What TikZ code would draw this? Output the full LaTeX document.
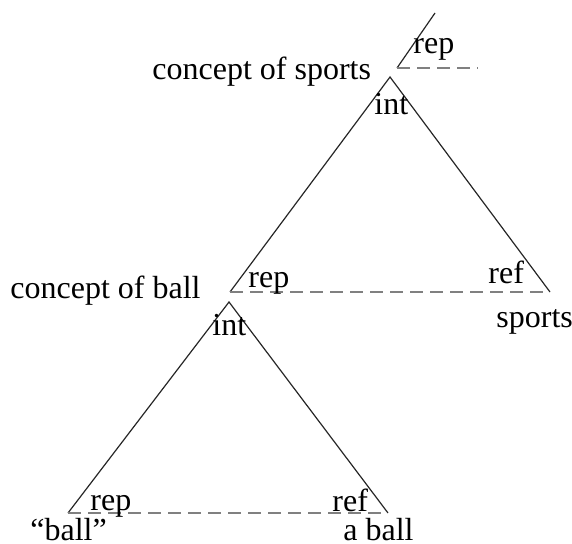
\documentclass[tikz,border=0pt]{standalone}
\usepackage{fontspec}
\setmainfont{Liberation Serif}
\begin{document}
\begin{tikzpicture}[x=0.5pt,y=-0.5pt,
  lbl/.style={anchor=base west,inner sep=0pt,font=\fontsize{16}{19}\selectfont},
  solidline/.style={draw=black!85,line width=0.6pt},
  dashline/.style={draw=black!50,line width=0.6pt,dash pattern=on 6.5pt off 3.5pt}]
\useasboundingbox (0,0) rectangle (572,544);
\coordinate (s0) at (435,13);
\coordinate (s1) at (397,68);
\coordinate (s2) at (478,68);
\coordinate (a) at (390,77);
\coordinate (b) at (230,292);
\coordinate (c) at (550,292);
\coordinate (d) at (229,302);
\coordinate (e) at (68,513);
\coordinate (f) at (388,513);
\draw[solidline] (s0) -- (s1);
\draw[dashline] (s1) -- (s2);
\draw[solidline] (b) -- (a) -- (c);
\draw[dashline] (b) -- (c);
\draw[solidline] (e) -- (d) -- (f);
\draw[dashline] (e) -- (f);
\node[lbl] (cs) at (152,80) {concept of sports};
\node[lbl] (rep1) at (413,54) {rep};
\node[lbl] (int1) at (374,115) {int};
\node[lbl] (cb) at (10,299) {concept of ball};
\node[lbl] (rep2) at (248,288) {rep};
\node[lbl] (ref2) at (488,284) {ref};
\node[lbl] (sp) at (496,328) {sports};
\node[lbl] (int2) at (212,336) {int};
\node[lbl] (rep3) at (90,510) {rep};
\node[lbl] (ref3) at (332,511) {ref};
\node[lbl] (bq) at (30,540) {``ball''};
\node[lbl] (ab) at (343,540) {a ball};
\end{tikzpicture}
\end{document}
